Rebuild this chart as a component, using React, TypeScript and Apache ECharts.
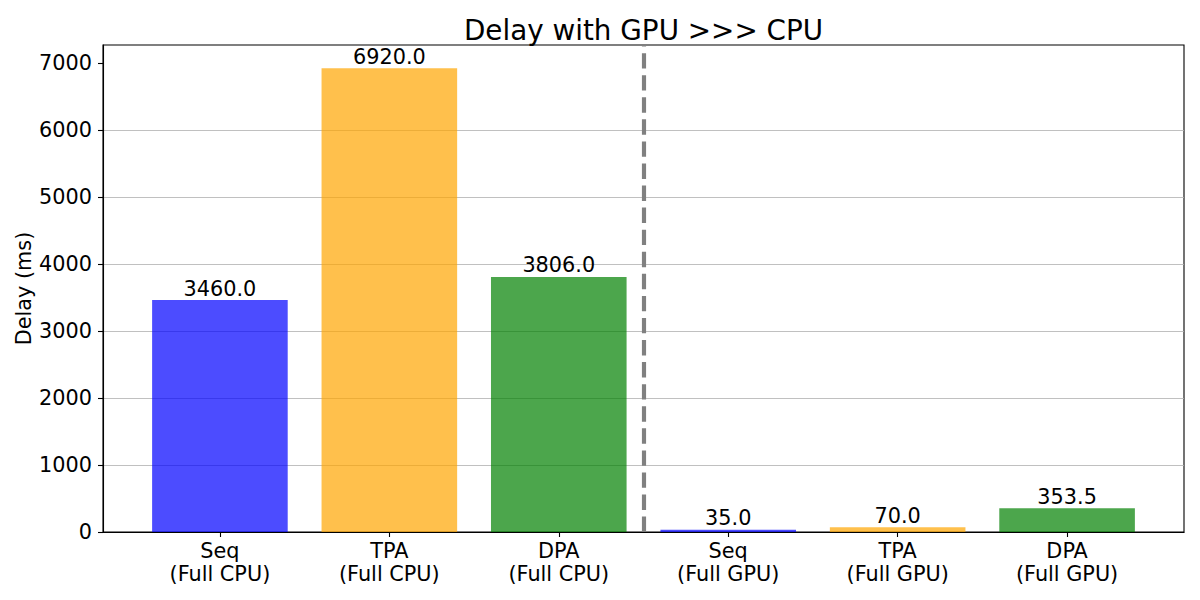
import React, { useEffect, useRef } from "react";
import * as echarts from "echarts";

const categories = [
  "Seq\n(Full CPU)",
  "TPA\n(Full CPU)",
  "DPA\n(Full CPU)",
  "Seq\n(Full GPU)",
  "TPA\n(Full GPU)",
  "DPA\n(Full GPU)",
];
const delays = [3460.0, 6920.0, 3806.0, 35.0, 70.0, 353.5];
const barColors = [
  "rgba(0,0,255,0.7)",
  "rgba(255,165,0,0.7)",
  "rgba(0,128,0,0.7)",
  "rgba(0,0,255,0.7)",
  "rgba(255,165,0,0.7)",
  "rgba(0,128,0,0.7)",
];
const yTicks = [0, 1000, 2000, 3000, 4000, 5000, 6000, 7000];
const separatorX = 2.5;
const yMax = 7266;

const FONT = "DejaVu Sans";
const FS = 20.8;

export default function App() {
  const ref = useRef<HTMLDivElement>(null);
  useEffect(() => {
    if (!ref.current) return;
    const chart = echarts.init(ref.current, null, { renderer: "svg" });
    const idx = categories.map((_, i) => i);
    chart.setOption({
      animation: false,
      backgroundColor: "#ffffff",
      textStyle: { fontFamily: FONT },
      title: {
        text: "Delay with GPU >>> CPU",
        left: 638.5,
        textAlign: "center",
        top: 11,
        textStyle: {
          fontFamily: FONT,
          fontSize: 27.8,
          fontWeight: "normal",
          color: "#000",
          lineHeight: 28,
        },
      },
      grid: {
        left: 103,
        top: 45,
        right: 16,
        bottom: 68,
        show: true,
        borderColor: "#000",
        borderWidth: 1.1,
        backgroundColor: "#fff",
      },
      xAxis: {
        type: "value",
        min: -0.69,
        max: 5.69,
        axisLine: { show: true, onZero: false, lineStyle: { color: "#000", width: 1.1 } },
        axisTick: {
          show: true,
          length: 5,
          customValues: idx,
          lineStyle: { color: "#000", width: 1.1 },
        },
        axisLabel: {
          customValues: idx,
          formatter: (v: number) => categories[Math.round(v)] ?? "",
          fontFamily: FONT,
          fontSize: FS,
          lineHeight: 23,
          color: "#000",
          margin: 7,
        },
        splitLine: { show: false },
      },
      yAxis: {
        type: "value",
        min: 0,
        max: yMax,
        name: "Delay (ms)",
        nameLocation: "middle",
        nameRotate: 90,
        nameGap: 69,
        nameMoveOverlap: false,
        nameTextStyle: { fontFamily: FONT, fontSize: FS, color: "#000" },
        axisLine: { show: true, onZero: false, lineStyle: { color: "#000", width: 1.1 } },
        axisTick: {
          show: true,
          length: 5,
          customValues: yTicks,
          lineStyle: { color: "#000", width: 1.1 },
        },
        axisLabel: {
          customValues: yTicks,
          formatter: (v: number) => String(v),
          fontFamily: FONT,
          fontSize: FS,
          color: "#000",
          margin: 11,
        },
        splitLine: {
          show: true,
          showMaxLine: false,
          showMinLine: false,
          lineStyle: { color: "#b0b0b0", width: 0.8 },
        },
      },
      series: [
        {
          type: "bar",
          barWidth: 135.6,
          data: delays.map((v, i) => ({
            value: [i, v],
            itemStyle: { color: barColors[i] },
          })),
          label: {
            show: true,
            position: "top",
            distance: 1,
            formatter: (p: any) => Number(p.value[1]).toFixed(1),
            fontFamily: FONT,
            fontSize: FS,
            lineHeight: 21,
            color: "#000",
          },
          emphasis: { disabled: true },
          markLine: {
            silent: true,
            symbol: "none",
            label: { show: false },
            lineStyle: {
              color: "#808080",
              width: 4.17,
              type: [15.4, 6.67],
            },
            data: [[{ coord: [separatorX, 0] }, { coord: [separatorX, yMax] }]],
          },
        },
      ],
    });
    return () => chart.dispose();
  }, []);
  return (
    <div
      ref={ref}
      style={{ position: "fixed", left: 0, top: 0, width: 1200, height: 600 }}
    />
  );
}
